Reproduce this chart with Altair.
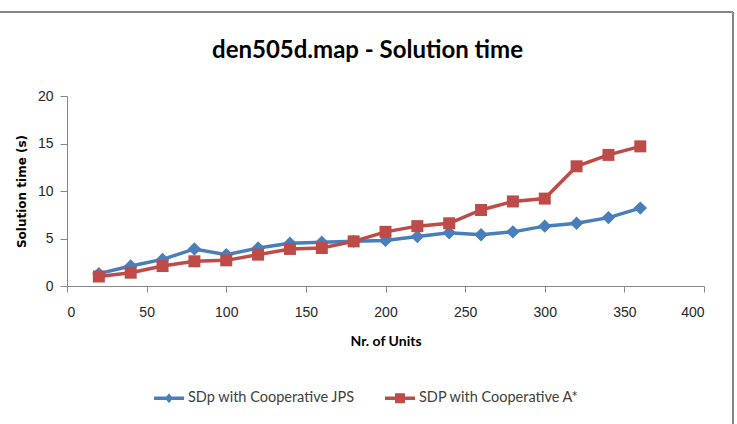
import altair as alt
import pandas as pd

units = [20, 40, 60, 80, 100, 120, 140, 160, 180, 200, 220, 240, 260, 280, 300, 320, 340, 360]
jps = [1.3, 2.1, 2.8, 3.9, 3.3, 4.0, 4.5, 4.6, 4.7, 4.8, 5.2, 5.6, 5.4, 5.7, 6.3, 6.6, 7.2, 8.2]
astar = [1.0, 1.4, 2.1, 2.6, 2.7, 3.3, 3.9, 4.0, 4.7, 5.7, 6.3, 6.6, 8.0, 8.9, 9.2, 12.6, 13.8, 14.7]
series_names = ["SDp with Cooperative JPS", "SDP with Cooperative A*"]
colors = ["#4A7EBB", "#BE4B48"]
x_ticks = [0, 50, 100, 150, 200, 250, 300, 350, 400]
y_ticks = [0, 5, 10, 15, 20]

df = pd.DataFrame({
    "units": units + units,
    "time": jps + astar,
    "series": [series_names[0]] * len(units) + [series_names[1]] * len(units),
})

FONT = "Lato"
TICK_FONT = "Liberation Sans"
GRAY = "#868686"

x = alt.X("units:Q", scale=alt.Scale(domain=[0, 400], nice=False),
          axis=alt.Axis(values=x_ticks, title="Nr. of Units", grid=False))
y = alt.Y("time:Q", scale=alt.Scale(domain=[0, 20], nice=False),
          axis=alt.Axis(values=y_ticks, title="Solution time (s)", grid=False,
                        titleFont="DejaVu Sans", titleFontSize=12))

legend_paths = [
    "M-1,-0.12L1,-0.12L1,0.12L-1,0.12Z M0,-0.34L0.26,0L0,0.34L-0.26,0Z",
    "M-1,-0.12L1,-0.12L1,0.12L-1,0.12Z M-0.33,-0.33L0.33,-0.33L0.33,0.33L-0.33,0.33Z",
]
leg = alt.Legend(title=None, orient="none", legendX=87, legendY=287, direction="horizontal",
                 symbolSize=900, symbolOpacity=1, symbolStrokeWidth=0, columnPadding=30,
                 labelFontSize=14.5, labelFont=FONT, labelColor="#404040", labelOffset=4,
                 labelLimit=300)
color = alt.Color("series:N", scale=alt.Scale(domain=series_names, range=colors), legend=leg)

base = alt.Chart(df)
legend_layer = base.mark_point(filled=True, opacity=0).encode(
    x=x, y=y, color=color,
    shape=alt.Shape("series:N", scale=alt.Scale(domain=series_names, range=legend_paths), legend=leg),
)
lines = base.mark_line(strokeWidth=3.5).encode(x=x, y=y, color=color)
diamonds = base.transform_filter(alt.datum.series == series_names[0]).mark_point(
    shape="diamond", filled=True, opacity=1, size=180).encode(x=x, y=y, color=color)
squares = base.transform_filter(alt.datum.series == series_names[1]).mark_point(
    shape="square", filled=True, opacity=1, size=144).encode(x=x, y=y, color=color)

border_top = alt.Chart(alt.Data(values=[{}])).mark_rule(color=GRAY, strokeWidth=2).encode(
    x=alt.value(-67), x2=alt.value(666), y=alt.value(-84))
border_right = alt.Chart(alt.Data(values=[{}])).mark_rule(color=GRAY, strokeWidth=2).encode(
    x=alt.value(666), y=alt.value(-84), y2=alt.value(330))

chart = alt.layer(legend_layer, lines, diamonds, squares, border_top, border_right).properties(
    width=637, height=190,
    background="white",
    title=alt.Title("den505d.map - Solution time", font=FONT, fontSize=24, fontWeight="bold",
                    color="#000000", anchor="middle", dx=-18, offset=-52),
    autosize=alt.AutoSizeParams(type="none"),
    padding={"left": 67, "top": 96, "right": 33, "bottom": 138},
).configure_view(stroke=None).configure_axis(
    domainColor=GRAY, tickColor=GRAY, domainWidth=1, tickWidth=1,
    labelFont=TICK_FONT, labelFontSize=14, labelColor="#262626",
    titleFont=FONT, titleFontSize=14, titleFontWeight="bold", titleColor="#000000",
).configure_axisY(tickSize=7, labelPadding=7, titlePadding=9).configure_axisX(
    tickSize=6, labelPadding=13, titlePadding=15
)

chart.save("out.html", embed_options={"renderer": "svg", "actions": False})
